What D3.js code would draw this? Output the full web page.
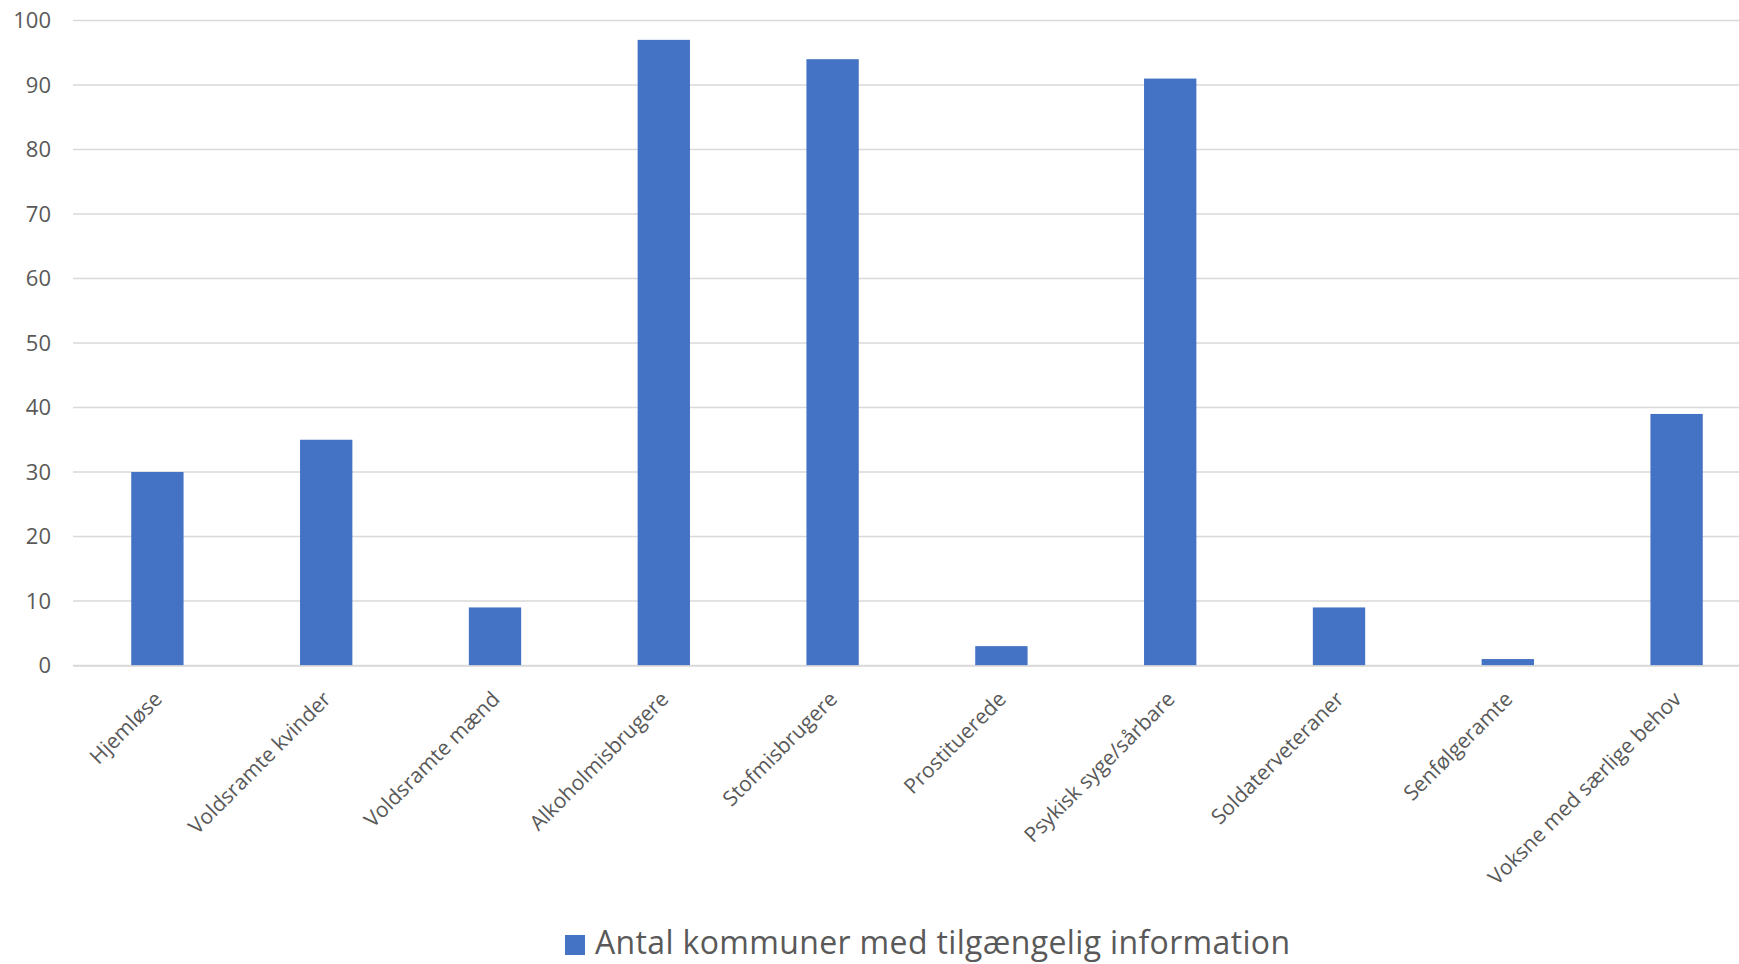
<!DOCTYPE html>
<html>
<head>
<meta charset="utf-8">
<script src="https://cdn.jsdelivr.net/npm/d3@7"></script>
<style>
  html, body { margin: 0; padding: 0; background: #fff; }
  svg { display: block; }
  text { font-family: "Open Sans", sans-serif; fill: #595959; }
</style>
</head>
<body>
<svg id="chart" width="1739" height="964"></svg>
<script>
const categories = [
  "Hjemløse", "Voldsramte kvinder", "Voldsramte mænd", "Alkoholmisbrugere",
  "Stofmisbrugere", "Prostituerede", "Psykisk syge/sårbare", "Soldaterveteraner",
  "Senfølgeramte", "Voksne med særlige behov"
];
const values = [30, 35, 9, 97, 94, 3, 91, 9, 1, 39];
const yTicks = [0, 10, 20, 30, 40, 50, 60, 70, 80, 90, 100];
const seriesName = "Antal kommuner med tilgængelig information";

(function () {
const svg = d3.select("#chart");
const mLeft = 73, mRight = 1761, mTop = 20.5, mBottom = 665.5;

const x = d3.scaleBand().domain(categories).range([mLeft, mRight])
  .paddingInner(0.69).paddingOuter(0.345);
const y = d3.scaleLinear().domain([0, 100]).range([mBottom, mTop]);

// gridlines
svg.append("g").selectAll("line").data(yTicks).join("line")
  .attr("x1", mLeft).attr("x2", 1739)
  .attr("y1", d => y(d)).attr("y2", d => y(d))
  .attr("stroke", "#d9d9d9").attr("stroke-width", 1.5);

// y axis labels
const yAxis = d3.axisLeft(y).tickValues(yTicks).tickSize(0).tickPadding(0);
const ya = svg.append("g").attr("transform", "translate(51,0)").call(yAxis);
ya.select(".domain").remove();
ya.selectAll("text").attr("font-size", 22).attr("fill", "#595959")
  .style("font-family", '"Open Sans", sans-serif');

// bars
svg.append("g").selectAll("rect").data(values).join("rect")
  .attr("x", (d, i) => x(categories[i]))
  .attr("width", x.bandwidth())
  .attr("y", d => y(d))
  .attr("height", d => y(0) - y(d))
  .attr("fill", "#4472c4");

// x axis line
svg.append("line").attr("x1", mLeft).attr("x2", 1739)
  .attr("y1", y(0) + 0.5).attr("y2", y(0) + 0.5)
  .attr("stroke", "#d9d9d9").attr("stroke-width", 1.5);

// x labels
const xAxis = d3.axisBottom(x).tickSize(0).tickPadding(0);
const xa = svg.append("g").attr("transform", `translate(0,${mBottom})`).call(xAxis);
xa.select(".domain").remove();
xa.selectAll(".tick text")
  .attr("font-size", 21)
  .attr("fill", "#595959")
  .style("font-family", '"Open Sans", sans-serif')
  .attr("text-anchor", "end")
  .attr("dy", null).attr("y", null)
  .attr("transform", "translate(6,35) rotate(-45)");

// legend
const lg = svg.append("g");
lg.append("rect").attr("x", 565).attr("y", 935).attr("width", 20).attr("height", 20).attr("fill", "#4472c4");
lg.append("text").attr("x", 595).attr("y", 954).attr("font-size", 32)
  .attr("letter-spacing", 0.35).text(seriesName);
})();
</script>
</body>
</html>
